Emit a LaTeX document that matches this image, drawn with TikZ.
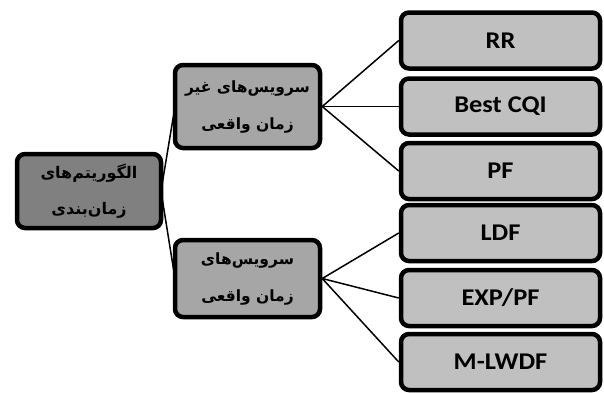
\documentclass[tikz,border=0pt]{standalone}
\usepackage{fontspec}
\TeXXeTstate=1
\newfontfamily\arabicfont[Script=Arabic]{DejaVu Sans}
\newfontfamily\latinfont[FakeStretch=1.1]{Carlito}
\definecolor{rootgray}{RGB}{128,128,128}
\definecolor{midgray}{RGB}{166,166,166}
\definecolor{leafgray}{RGB}{192,192,192}
\begin{document}
\begin{tikzpicture}[x=1pt,y=-1pt,
  box/.style={draw=black, line width=4.5pt, rounded corners=8pt, inner sep=0pt, align=center},
  rootbox/.style={box, fill=rootgray, minimum width=144pt, minimum height=74pt,
    font=\arabicfont\bfseries\fontsize{16}{36}\selectfont},
  midbox/.style={box, fill=midgray, minimum width=145pt,
    font=\arabicfont\bfseries\fontsize{15.5}{37}\selectfont},
  leafbox/.style={box, fill=leafgray, minimum width=199pt, minimum height=56pt,
    font=\latinfont\bfseries\fontsize{24}{26}\selectfont},
  link/.style={draw=black, line width=1.5pt}]
\useasboundingbox (0,0) rectangle (604,392);
% connectors (drawn first, behind the boxes)
\coordinate (rootE) at (161,191);
\coordinate (m1W) at (175,106.5);
\coordinate (m2W) at (175,278.5);
\draw[link] (rootE) -- (m1W);
\draw[link] (rootE) -- (m2W);
% nodes
\node[rootbox] (root) at (89,191) {\beginR الگوریتم^^^^200cهای\endR\\\beginR زمان^^^^200cبندی\endR};
\node[midbox, minimum height=83pt] (mid1) at (247.5,106.5) {\beginR سرویس^^^^200cهای غیر\endR\\\beginR زمان واقعی\endR};
\node[midbox, minimum height=77pt] (mid2) at (247.5,278.5) {\beginR سرویس^^^^200cهای\endR\\\beginR زمان واقعی\endR};
\node[leafbox] (rr) at (500.5,40.5) {RR};
\node[leafbox] (cqi) at (500.5,106.5) {Best CQI};
\node[leafbox] (pf) at (500.5,171) {PF};
\node[leafbox] (ldf) at (500.5,233) {LDF};
\node[leafbox] (exp) at (500.5,298) {EXP/PF};
\node[leafbox] (mlwdf) at (500.5,362) {M-LWDF};
\foreach \t in {rr,cqi,pf} \draw[link] (mid1.east) -- (\t.west);
\foreach \t in {ldf,exp,mlwdf} \draw[link] (mid2.east) -- (\t.west);
\end{tikzpicture}
\end{document}
